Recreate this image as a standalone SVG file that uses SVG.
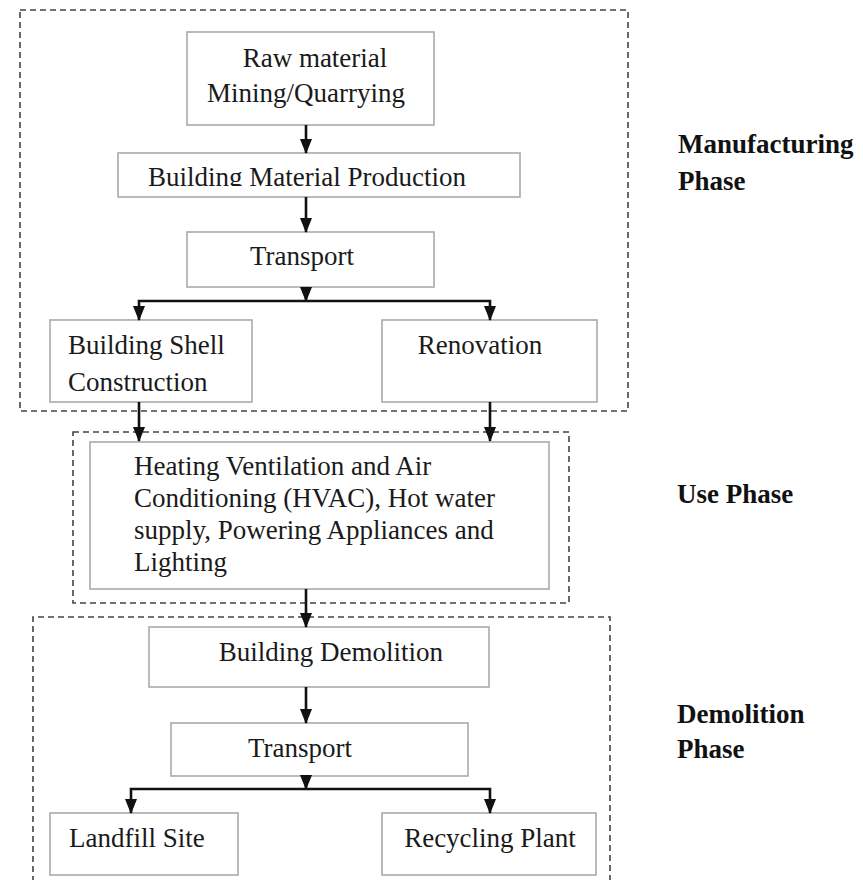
<svg xmlns="http://www.w3.org/2000/svg" width="863" height="880" viewBox="0 0 863 880">
<style>
.phase{fill:none;stroke:#444;stroke-width:1.6;stroke-dasharray:6 4}
.box{fill:#fff;stroke:#aaa;stroke-width:1.6}
.t{font-family:"Liberation Serif","Times New Roman",serif;font-size:27px;fill:#1a1a1a}
.m{text-anchor:middle}
.lbl{font-family:"Liberation Serif","Times New Roman",serif;font-size:27px;font-weight:bold;fill:#111}
.c{fill:none;stroke:#111;stroke-width:2.6}
</style>
<defs>
<marker id="ah" markerUnits="userSpaceOnUse" markerWidth="15" markerHeight="14" viewBox="0 0 15 14" refX="14" refY="7" orient="auto">
<path d="M0,1 L15,7 L0,13 Z" fill="#111"/>
</marker>
<clipPath id="bmpclip"><rect x="118" y="153" width="402" height="33"/></clipPath>
</defs>
<rect width="863" height="880" fill="#fff"/>
<g id="phases">
<rect class="phase" x="20" y="10" width="608" height="401"/>
<rect class="phase" x="73" y="432" width="496" height="171"/>
<path class="phase" d="M33,882 V617 H610 V882"/>
</g>
<g id="n-raw"><rect class="box" x="187" y="32" width="247" height="93"/>
<text class="t m" x="315" y="67">Raw material</text>
<text class="t m" x="306" y="102">Mining/Quarrying</text></g>
<g id="n-bmp"><rect class="box" x="118" y="153" width="402" height="44"/>
<text class="t m" x="307" y="186" clip-path="url(#bmpclip)">Building Material Production</text></g>
<g id="n-transport1"><rect class="box" x="187" y="232" width="247" height="55"/>
<text class="t m" x="302" y="265">Transport</text></g>
<g id="n-shell"><rect class="box" x="50" y="320" width="202" height="82"/>
<text class="t" x="68" y="354">Building Shell</text>
<text class="t" x="68" y="391">Construction</text></g>
<g id="n-renovation"><rect class="box" x="382" y="320" width="215" height="82"/>
<text class="t m" x="480" y="354">Renovation</text></g>
<g id="n-hvac"><rect class="box" x="90" y="442" width="459" height="147"/>
<text class="t" x="134" y="475">Heating Ventilation and Air</text>
<text class="t" x="134" y="507">Conditioning (HVAC), Hot water</text>
<text class="t" x="134" y="539">supply, Powering Appliances and</text>
<text class="t" x="134" y="571">Lighting</text></g>
<g id="n-demolition"><rect class="box" x="149" y="627" width="340" height="60"/>
<text class="t m" x="331" y="661">Building Demolition</text></g>
<g id="n-transport2"><rect class="box" x="171" y="723" width="297" height="53"/>
<text class="t m" x="300" y="757">Transport</text></g>
<g id="n-landfill"><rect class="box" x="50" y="813" width="188" height="62"/>
<text class="t" x="69" y="847">Landfill Site</text></g>
<g id="n-recycling"><rect class="box" x="382" y="813" width="214" height="62"/>
<text class="t m" x="490" y="847">Recycling Plant</text></g>
<g id="labels">
<text class="lbl" x="678" y="153">Manufacturing</text>
<text class="lbl" x="678" y="190">Phase</text>
<text class="lbl" x="677" y="503">Use Phase</text>
<text class="lbl" x="677" y="723">Demolition</text>
<text class="lbl" x="677" y="758">Phase</text>
</g>
<g id="connectors">
<path class="c" d="M306,125 V153" marker-end="url(#ah)"/>
<path class="c" d="M306,197 V232" marker-end="url(#ah)"/>
<path class="c" d="M306,287 V301" marker-end="url(#ah)"/>
<path class="c" d="M306,301 H139 V320" marker-end="url(#ah)"/>
<path class="c" d="M306,301 H490 V320" marker-end="url(#ah)"/>
<path class="c" d="M139,402 V441" marker-end="url(#ah)"/>
<path class="c" d="M490,402 V441" marker-end="url(#ah)"/>
<path class="c" d="M306,589 V627" marker-end="url(#ah)"/>
<path class="c" d="M306,687 V723" marker-end="url(#ah)"/>
<path class="c" d="M306,776 V789" marker-end="url(#ah)"/>
<path class="c" d="M306,789 H131 V813" marker-end="url(#ah)"/>
<path class="c" d="M306,789 H490 V813" marker-end="url(#ah)"/>
</g>
</svg>
